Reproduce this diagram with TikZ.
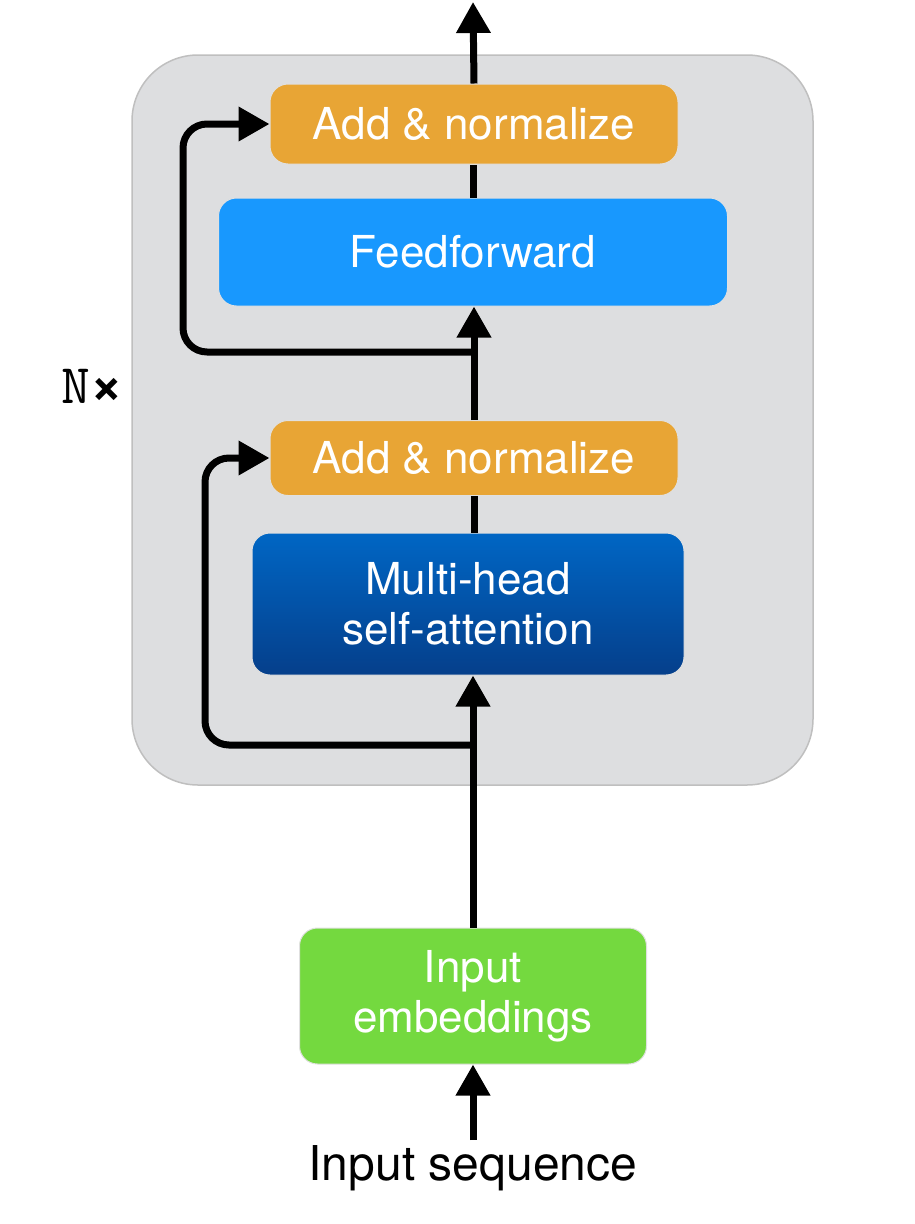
\documentclass[tikz,border=0pt]{standalone}
\usepackage{fontspec}
\setmainfont{TeX Gyre Heros}
\usetikzlibrary{arrows.meta}
\definecolor{panelgray}{HTML}{DDDEE0}
\definecolor{addorange}{HTML}{E8A535}
\definecolor{ffblue}{HTML}{1898FE}
\definecolor{mhatop}{HTML}{0066C4}
\definecolor{mhabot}{HTML}{053F8B}
\definecolor{embgreen}{HTML}{74D93F}
\tikzset{blk/.style={rectangle, rounded corners=18pt, text=white, align=center,
   font=\fontsize{44}{50}\selectfont, inner sep=0pt, draw=black!12, line width=1pt}}
\tikzset{flow/.style={line width=7pt, -{Triangle[length=31pt,width=33pt]}}}
\tikzset{link/.style={line width=7pt}}
\tikzset{skip/.style={flow, rounded corners=24pt}}

\begin{document}
\begin{tikzpicture}[x=1pt, y=-1pt]

    \useasboundingbox (0,0) rectangle (914,1224);

    \draw[fill=panelgray, draw=black!25, line width=1.5pt, rounded corners=66pt]
      (132,55) rectangle (813,785);

    \node[blk, fill=addorange, minimum width=408pt, minimum height=80pt] (add1) at (474,124) {Add \& normalize};
    \node[blk, fill=ffblue, minimum width=509pt, minimum height=108pt] (ff) at (473,252) {Feedforward};
    \node[blk, fill=addorange, minimum width=408pt, minimum height=75pt] (add2) at (474,458) {Add \& normalize};
    \node[blk, top color=mhatop, bottom color=mhabot, minimum width=432pt, minimum height=142pt] (mha) at (468,604) {Multi-head\\self-attention};
    \node[blk, fill=embgreen, minimum width=347pt, minimum height=136pt] (emb) at (473,996) {Input\\embeddings};
    \node[font=\fontsize{48}{56}\selectfont, inner sep=0pt] (seq) at (473,1168) {Input sequence};
    \node[font=\fontsize{56}{60}\selectfont, inner sep=0pt] (nx) at (92,386) {\ttfamily N\rmfamily\bfseries{\char"00D7}};

    \coordinate (out) at (473,2);
    \coordinate (in) at (473,1140);
    \coordinate (split1) at (473,352);
    \coordinate (bend1) at (183,352);
    \coordinate (split2) at (473,745);
    \coordinate (bend2) at (205,745);

    \draw[flow] (add1.north) -- (out);
    \draw[link] (ff.north) -- (ff.north |- add1.south);
    \draw[flow] (add2.north) -- (add2.north |- ff.south);
    \draw[link] (add2.south) -- (add2.south |- mha.north);
    \draw[flow] (emb.north) -- (emb.north |- mha.south);
    \draw[flow] (in) -- (emb.south);

    \draw[skip] (split1) -- (bend1) |- (add1.west);
    \draw[skip] (split2) -- (bend2) |- (add2.west);

  \end{tikzpicture}
\end{document}
